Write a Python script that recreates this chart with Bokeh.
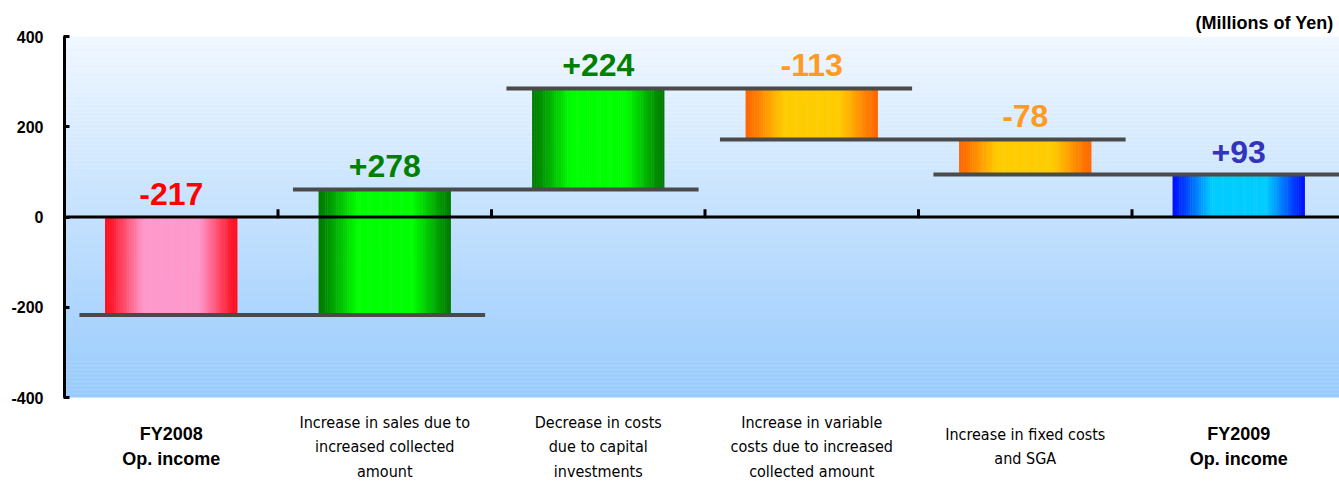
import numpy as np
from bokeh.plotting import figure
from bokeh.models import Range1d, FixedTicker, ColumnDataSource
from bokeh.embed import file_html
from bokeh.resources import INLINE
from bokeh.core.properties import value

# ---------------- data ----------------
categories = [
    "FY2008\nOp. income",
    "Increase in sales due to\nincreased collected\namount",
    "Decrease in costs\ndue to capital\ninvestments",
    "Increase in variable\ncosts due to increased\ncollected amount",
    "Increase in fixed costs\nand SGA",
    "FY2009\nOp. income",
]
changes = [-217, 278, 224, -113, -78, 93]
kinds = ["total", "delta", "delta", "delta", "delta", "total"]
value_texts = ["-217", "+278", "+224", "-113", "-78", "+93"]
y_ticks = [-400, -200, 0, 200, 400]
y_tick_texts = ["-400", "-200", "0", "200", "400"]
unit_text = "(Millions of Yen)"

# ---------------- styles ----------------
edge_colors = ["#ff0a1a", "#007a00", "#007a00", "#ff6600", "#ff6600", "#0010ff"]
center_colors = ["#ff99cc", "#00ff00", "#00ff00", "#ffcc00", "#ffcc00", "#00ccff"]
label_colors = ["#ff0000", "#008000", "#008000", "#ff9a22", "#ff9a22", "#3333bb"]
bold_label = [True, False, False, False, False, True]
NARROW = "'Liberation Sans Narrow', 'Arial Narrow', 'DejaVu Sans Condensed', 'Roboto Condensed', Roboto, sans-serif"

W, H = 1339, 483
LEFT = 64
PLOT_TOP, PLOT_BOT = 36, 397        # screen rows of +400 and -400
cat_px = 213.5
frame_w = W - LEFT
x_end = frame_w / cat_px
y_lo, y_hi = -400, 400
upp = (y_hi - y_lo) / (PLOT_BOT - PLOT_TOP)  # data units per pixel


def ys(sy):
    """screen row -> data y"""
    return y_hi - (sy - PLOT_TOP) * upp


p = figure(width=W, height=H, output_backend="svg", toolbar_location=None,
           x_range=Range1d(0, x_end), y_range=Range1d(ys(H), ys(0)),
           x_axis_location=None, min_border_left=LEFT, min_border_right=0,
           min_border_top=0, min_border_bottom=0)
p.outline_line_color = None
p.grid.visible = False
p.background_fill_color = "white"
p.border_fill_color = "white"


def hex2rgb(h):
    h = h.lstrip("#")
    return np.array([int(h[i:i + 2], 16) for i in (0, 2, 4)], dtype=float)


def rgb2hex(c):
    return "#%02x%02x%02x" % tuple(int(round(v)) for v in c)


# background vertical gradient (plot area only)
top_c, bot_c = hex2rgb("#eff7ff"), hex2rgb("#99cbfd")
nb = 90
edges = np.linspace(y_lo, y_hi, nb + 1)
bg_cols = [rgb2hex(bot_c + (top_c - bot_c) * (k + 0.5) / nb) for k in range(nb)]
tops = edges[1:].copy()
tops[:-1] += 0.6
p.quad(left=0, right=x_end, bottom=edges[:-1], top=tops,
       fill_color=bg_cols, line_color=None)

# waterfall geometry
lows, highs, levels = [], [], []
level = 0
for v, k in zip(changes, kinds):
    if k == "total":
        b, t = 0, v
        level = v
    else:
        b, t = level, level + v
        level = t
    lows.append(min(b, t))
    highs.append(max(b, t))
    levels.append(level)

bar_w = 0.62
ns = 60
for i in range(len(categories)):
    x0 = i + 0.5 - bar_w / 2
    se = np.linspace(x0, x0 + bar_w, ns + 1)
    tt = (np.arange(ns) + 0.5) / ns
    f = np.clip(np.sin(np.pi * tt) * 1.25, 0, 1) ** 1.3
    ec, cc = hex2rgb(edge_colors[i]), hex2rgb(center_colors[i])
    cols = [rgb2hex(ec + (cc - ec) * fv) for fv in f]
    rights = se[1:].copy()
    rights[:-1] += 0.002
    p.quad(left=se[:-1], right=rights, bottom=lows[i], top=highs[i],
           fill_color=cols, line_color=None)

# connector lines
for i in range(len(categories) - 1):
    p.segment(x0=i + 0.07, y0=levels[i], x1=i + 1.97, y1=levels[i],
              line_color="#4a4a4a", line_width=4)

# zero line and boundary ticks
p.segment(x0=0, y0=0, x1=x_end, y1=0, line_color="black", line_width=3)
bounds = list(range(1, len(categories)))
p.segment(x0=bounds, y0=-3, x1=bounds, y1=17, line_color="black", line_width=3)

# value labels (about 11 px above each bar top)
src = ColumnDataSource(dict(x=[i + 0.5 for i in range(len(categories))],
                            y=[h + 23.5 * upp for h in highs],
                            t=value_texts, c=label_colors))
p.text(x="x", y="y", text="t", text_color="c", source=src, text_align="center",
       text_baseline="alphabetic", text_font=value("Liberation Sans"),
       text_font_style="bold", text_font_size="32px")

# category labels below the plot area
line_gap = 24.5
center_sy = 446
bx, by, bt, nx, ny, nt = [], [], [], [], [], []
for i, cat in enumerate(categories):
    lines = cat.split("\n")
    n = len(lines)
    for j, ln in enumerate(lines):
        sy = center_sy + (j - (n - 1) / 2) * line_gap
        if bold_label[i]:
            bx.append(i + 0.5); by.append(ys(sy)); bt.append(ln)
        else:
            nx.append(i + 0.5); ny.append(ys(sy)); nt.append(ln)
p.text(x=bx, y=by, text=bt, text_align="center", text_baseline="middle",
       text_font=value("Liberation Sans"), text_font_style="bold",
       text_font_size="18px", text_color="black")
p.text(x=nx, y=ny, text=nt, text_align="center", text_baseline="middle",
       text_font=value(NARROW),
       text_font_size="16px", text_color="black")

# units label
p.text(x=[x_end - 6 / cat_px], y=[ys(22)], text=[unit_text], text_align="right",
       text_baseline="middle", text_font=value("Liberation Sans"),
       text_font_style="bold", text_font_size="18px", text_color="black")

# y axis (only over the plot area)
ax = p.yaxis[0]
ax.ticker = FixedTicker(ticks=y_ticks)
ax.major_label_overrides = dict(zip(y_ticks, y_tick_texts))
ax.bounds = (y_lo, y_hi)
ax.axis_line_width = 3
ax.axis_line_color = "black"
ax.major_tick_line_width = 3
ax.major_tick_in = 5
ax.major_tick_out = 1
ax.minor_tick_line_color = None
ax.major_label_text_font = "Liberation Sans"
ax.major_label_text_font_style = "bold"
ax.major_label_text_font_size = "16px"
ax.major_label_text_color = "black"
ax.major_label_standoff = 20

open("out.html", "w").write(file_html(p, INLINE))
